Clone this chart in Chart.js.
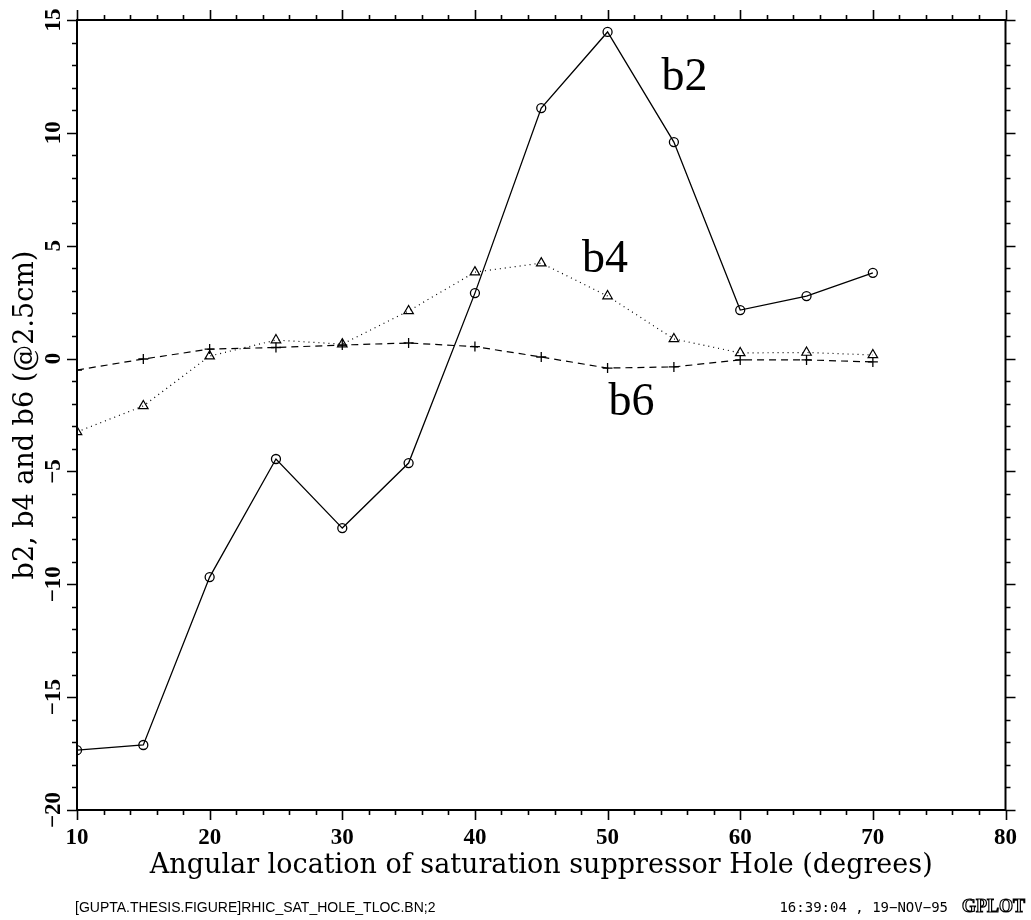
<!DOCTYPE html>
<html>
<head>
<meta charset="utf-8">
<script src="https://cdn.jsdelivr.net/npm/chart.js@4.4.0/dist/chart.umd.min.js"></script>
<style>
body { margin: 0; background: #fff; }
#wrap { width: 1031px; height: 920px; }
</style>
</head>
<body>
<div id="wrap"><canvas id="chart" width="1031" height="920"></canvas></div>
<script>
// angular position of the hole (degrees)
let angles = [10, 15, 20, 25, 30, 35, 40, 45, 50, 55, 60, 65, 70]
let b2 = [-17.35, -17.12, -9.68, -4.45, -7.51, -4.63, 2.90, 11.10, 14.47, 9.59, 2.15, 2.77, 3.80]
let b4 = [-3.25, -2.10, 0.11, 0.82, 0.64, 2.11, 3.83, 4.23, 2.77, 0.87, 0.25, 0.27, 0.16]
let b6 = [-0.51, -0.02, 0.42, 0.49, 0.60, 0.69, 0.53, 0.07, -0.42, -0.37, -0.06, -0.06, -0.15]

let xMajor = [10, 20, 30, 40, 50, 60, 70, 80]
let yMajor = [-20, -15, -10, -5, 0, 5, 10, 15]

let curveNames = ["b2", "b4", "b6"]
let curveNameAt = [[55.8, 11.9], [49.8, 3.83], [51.8, -2.5]] // data coords, baseline

let footLeft = "[GUPTA.THESIS.FIGURE]RHIC_SAT_HOLE_TLOC.BN;2"
let footRight = "16:39:04 , 19\u2212NOV\u221295"

function pts(ys) {
    return angles.map((a, i) => ({x: a, y: ys[i]}))
}

function minus(v) {
    return v < 0 ? "\u2212" + Math.abs(v) : String(v)
}

const frame = {
    id: "frame",
    afterDraw(chart) {
        const {ctx, chartArea: a, scales: {x, y}} = chart
        ctx.save()
        ctx.strokeStyle = "#000"
        ctx.lineWidth = 2
        ctx.strokeRect(a.left, a.top, a.right - a.left, a.bottom - a.top)
        ctx.lineWidth = 1.6
        ctx.beginPath()
        for (let t of x.ticks) {
            let px = Math.round(x.getPixelForValue(t.value)) + 0.5
            let len = xMajor.includes(t.value) ? 10 : 5
            ctx.moveTo(px, a.bottom); ctx.lineTo(px, a.bottom + len)
            ctx.moveTo(px, a.top); ctx.lineTo(px, a.top - len)
        }
        for (let t of y.ticks) {
            let py = Math.round(y.getPixelForValue(t.value)) + 0.5
            let len = yMajor.includes(t.value) ? 10 : 5
            ctx.moveTo(a.left, py); ctx.lineTo(a.left - len, py)
            ctx.moveTo(a.right, py); ctx.lineTo(a.right + len, py)
        }
        ctx.stroke()

        // footer
        ctx.fillStyle = "#000"
        ctx.textBaseline = "middle"
        ctx.font = "14px 'Liberation Sans'"
        ctx.textAlign = "left"
        ctx.fillText(footLeft, 75, 908)
        ctx.font = "14px 'DejaVu Sans Mono'"
        ctx.textAlign = "right"
        ctx.fillText(footRight, 948, 908)
        ctx.font = "bold 18px 'Liberation Serif'"
        ctx.textAlign = "left"
        ctx.lineWidth = 1.2
        ctx.strokeText("GPLOT", 962, 907)
        ctx.restore()
    },
    afterDatasetsDraw(chart) {
        const {ctx, scales: {x, y}} = chart
        ctx.save()
        ctx.fillStyle = "#000"
        ctx.font = "46px 'Liberation Serif'"
        ctx.textAlign = "center"
        ctx.textBaseline = "alphabetic"
        curveNames.forEach((n, i) => {
            ctx.fillText(n, x.getPixelForValue(curveNameAt[i][0]), y.getPixelForValue(curveNameAt[i][1]))
        })
        ctx.restore()
    }
}

const tickFont = {family: "'Liberation Serif'", size: 23, weight: "bold"}
const titleFont = {family: "'DejaVu Serif'", size: 27}

new Chart(document.getElementById("chart"), {
    type: "line",
    data: {
        datasets: [
            {label: "b2", data: pts(b2), borderColor: "#000", borderWidth: 1.3, pointStyle: "circle",
             pointRadius: 4.5, pointBorderWidth: 1.3, pointBackgroundColor: "rgba(0,0,0,0)", pointBorderColor: "#000"},
            {label: "b4", data: pts(b4), borderColor: "#000", borderWidth: 1.2, borderDash: [1, 4], pointStyle: "triangle",
             pointRadius: 5.5, pointBorderWidth: 1.2, pointBackgroundColor: "rgba(0,0,0,0)", pointBorderColor: "#000"},
            {label: "b6", data: pts(b6), borderColor: "#000", borderWidth: 1.2, borderDash: [7, 5], pointStyle: "cross",
             pointRadius: 5, pointBorderWidth: 1.3, pointBorderColor: "#000"}
        ]
    },
    options: {
        responsive: false,
        animation: false,
        events: [],
        layout: {padding: {top: 20, right: 23, left: 0, bottom: 0}},
        plugins: {legend: {display: false}, tooltip: {enabled: false}},
        scales: {
            x: {
                type: "linear", min: 10, max: 80,
                grid: {display: false, drawTicks: false},
                border: {display: false},
                ticks: {stepSize: 2, autoSkip: false, maxRotation: 0, padding: 14, color: "#000", font: tickFont,
                        callback: v => xMajor.includes(v) ? String(v) : ""},
                title: {display: true, text: "Angular location of saturation suppressor Hole (degrees)",
                        color: "#000", font: titleFont, padding: {top: 0, bottom: 38}},
                afterFit: s => { s.height = 110 }
            },
            y: {
                type: "linear", min: -20, max: 15,
                grid: {display: false, drawTicks: false},
                border: {display: false},
                ticks: {stepSize: 1, autoSkip: false, minRotation: 90, maxRotation: 90, crossAlign: "center",
                        padding: 5, color: "#000", font: tickFont,
                        callback: v => yMajor.includes(v) ? minus(v) : ""},
                title: {display: true, text: "b2, b4 and b6 (@2.5cm)", color: "#000", font: titleFont,
                        padding: {top: 10, bottom: 0}},
                afterFit: s => { s.width = 77 }
            }
        }
    },
    plugins: [frame]
})
</script>
</body>
</html>
